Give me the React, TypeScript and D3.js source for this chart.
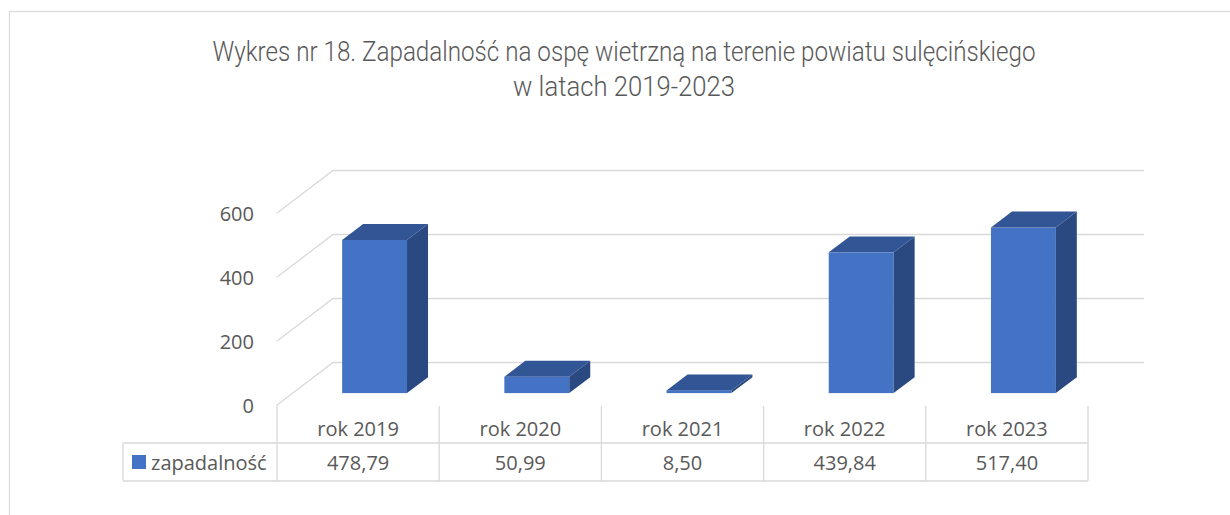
import React from "react";
import * as d3 from "d3";

const title1 = "Wykres nr 18. Zapadalność na ospę wietrzną na terenie powiatu sulęcińskiego";
const title2 = "w latach 2019-2023";
const categories = ["rok 2019", "rok 2020", "rok 2021", "rok 2022", "rok 2023"];
const values = [478.79, 50.99, 8.5, 439.84, 517.4];
const valueLabels = ["478,79", "50,99", "8,50", "439,84", "517,40"];
const seriesName = "zapadalność";
const yTicks = [0, 200, 400, 600];

const W = 1230;
const H = 515;
const TXT = "#595959";
const GRID = "#D9D9D9";
const FRONT = "#4472C4";
const TOP = "#325596";
const SIDE = "#2A4980";
const FONT = "'Open Sans', sans-serif";

export default function App() {
  const x = d3.scaleBand<string>().domain(categories).range([277, 1088]).paddingInner(0).paddingOuter(0);
  const y = d3.scaleLinear().domain([0, 600]).range([405, 213]);
  const DX = 56;
  const DY = -42.5;
  const f0 = 0.28;
  const f1 = 0.655;
  const bw = x.bandwidth();
  const barW = bw * 0.4;
  const bdx = (f1 - f0) * DX;
  const bdy = (f1 - f0) * DY;
  const tableLeft = 123;
  const tableRight = 1088;
  const headTop = 406;
  const rowMid = 443;
  const rowBot = 481;

  return (
    <div style={{ position: "absolute", left: 0, top: 0, width: W, height: H, overflow: "hidden", background: "#fff" }}>
      <svg width={W} height={H} style={{ display: "block" }}>
        <rect x={9.5} y={11.5} width={W + 20} height={H + 20} fill="#fff" stroke={GRID} strokeWidth={1.2} />
        <text x={624} y={61} textAnchor="middle" fontFamily="Roboto, sans-serif" fontWeight={300} fontSize={27} fill={TXT} textLength={823} lengthAdjust="spacingAndGlyphs">{title1}</text>
        <text x={624} y={96} textAnchor="middle" fontFamily="Roboto, sans-serif" fontWeight={300} fontSize={27} fill={TXT} textLength={222} lengthAdjust="spacingAndGlyphs">{title2}</text>

        {yTicks.map((t) => {
          const yf = y(t);
          const x0 = x.range()[0];
          const x1 = x.range()[1];
          return (
            <g key={t}>
              <path d={`M${x0},${yf} L${x0 + DX},${yf + DY} L${x1 + DX},${yf + DY}`} fill="none" stroke={GRID} strokeWidth={1.3} />
              <text x={254} y={yf + 8} textAnchor="end" fontFamily={FONT} fontSize={20} fill={TXT}>{t}</text>
            </g>
          );
        })}

        {categories.map((c, i) => {
          const xl = (x(c) as number) + bw * 0.305 + f0 * DX;
          const xr = xl + barW;
          const yb = y(0) + f0 * DY;
          const yt = yb - (y(0) - y(values[i]));
          return (
            <g key={c}>
              <rect x={xl} y={yt} width={barW} height={yb - yt} fill={FRONT} />
              <polygon points={`${xr},${yt} ${xr + bdx},${yt + bdy} ${xr + bdx},${yb + bdy} ${xr},${yb}`} fill={SIDE} />
              <polygon points={`${xl},${yt} ${xr},${yt} ${xr + bdx},${yt + bdy} ${xl + bdx},${yt + bdy}`} fill={TOP} />
            </g>
          );
        })}

        {/* data table */}
        <g stroke={GRID} strokeWidth={1.3} fill="none">
          <line x1={tableLeft} y1={rowMid} x2={tableRight} y2={rowMid} />
          <line x1={tableLeft} y1={rowBot} x2={tableRight} y2={rowBot} />
          <line x1={tableLeft} y1={rowMid} x2={tableLeft} y2={rowBot} />
          <line x1={x.range()[0]} y1={y(0)} x2={x.range()[0]} y2={rowBot} />
          {categories.map((c) => {
            const xe = (x(c) as number) + bw;
            return <line key={c} x1={xe} y1={headTop} x2={xe} y2={rowBot} />;
          })}
        </g>
        {categories.map((c, i) => {
          const cx = (x(c) as number) + bw / 2;
          return (
            <g key={c}>
              <text x={cx} y={436} textAnchor="middle" fontFamily={FONT} fontSize={20} fill={TXT}>{c}</text>
              <text x={cx} y={470} textAnchor="middle" fontFamily={FONT} fontSize={20} fill={TXT}>{valueLabels[i]}</text>
            </g>
          );
        })}
        <rect x={132} y={455} width={14} height={14} fill={FRONT} />
        <text x={151} y={470} fontFamily={FONT} fontSize={20} fill={TXT}>{seriesName}</text>
      </svg>
    </div>
  );
}
